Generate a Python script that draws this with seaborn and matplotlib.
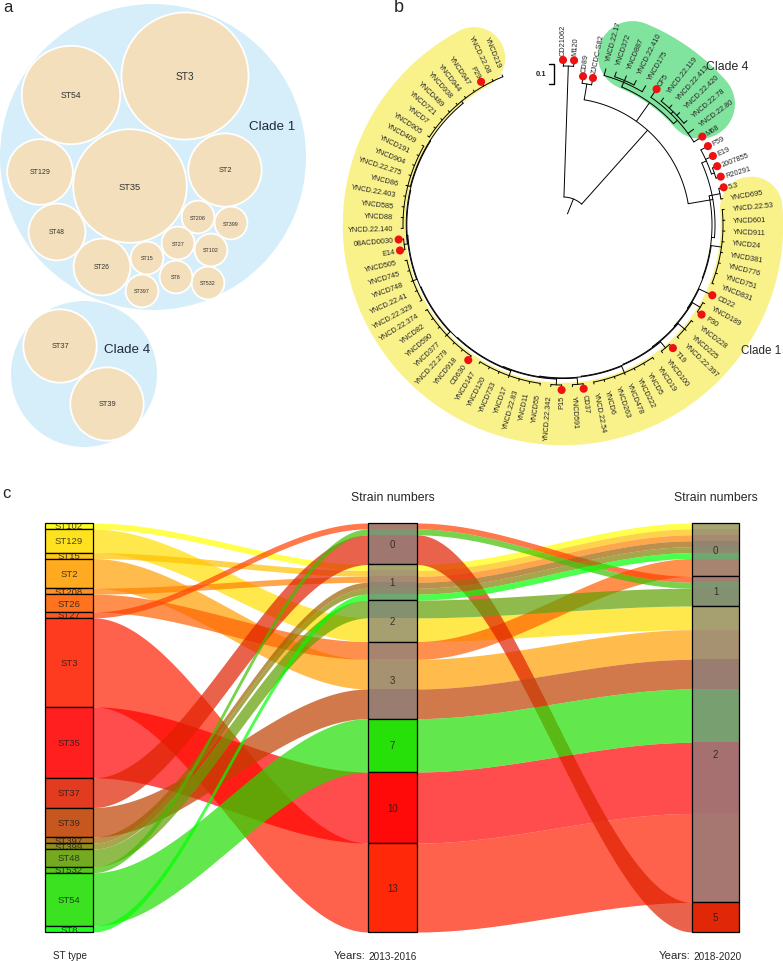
import numpy as np
import seaborn as sns
import matplotlib.pyplot as plt
from matplotlib.patches import Circle, Rectangle
from matplotlib.colors import to_rgba

sns.set_theme(style="white")
plt.rcParams['font.family'] = ['Liberation Sans', 'DejaVu Sans']

# --- ST types (panels a and c) ---
st_types = ["ST102", "ST129", "ST15", "ST2", "ST208", "ST26", "ST27", "ST3", "ST35",
            "ST37", "ST39", "ST397", "ST399", "ST48", "ST532", "ST54", "ST8"]
strains_2013_2016 = [1, 2, 1, 3, 1, 3, 0, 13, 10, 0, 3, 1, 1, 2, 0, 7, 1]
strains_2018_2020 = [0, 2, 0, 2, 0, 0, 1, 2, 2, 5, 2, 0, 0, 1, 1, 2, 0]
st_colors = ["#FFFF00", "#FFDF00", "#FFBF00", "#FF9F00", "#FF8000", "#FF6000", "#FF4000",
             "#FF2000", "#FF0000", "#DF2000", "#BF4000", "#9F6000", "#808000", "#609F00",
             "#40BF00", "#20DF00", "#00FF00"]
mid_levels = [0, 1, 2, 3, 7, 10, 13]
right_levels = [0, 1, 2, 5]

# --- phylogeny tips (clockwise from the top) ---
tip_labels = ["CD21062", "M120", "CD89", "ZJCDC-S82", "YNCD.22.17", "YNCD372", "YNCD887",
              "YNCD.22.410", "YNCD175", "CF5", "YNCD.22.119", "YNCD.22.413", "YNCD.22.420",
              "YNCD.22.78", "YNCD.22.80", "M68", "P59", "E19", "2007855", "R20291", "5.3",
              "YNCD695", "YNCD.22.53", "YNCD601", "YNCD911", "YNCD24", "YNCD381", "YNCD776",
              "YNCD751", "YNCD831", "CD22", "YNCD189", "P30", "YNCD228", "YNCD225",
              "YNCD.22.397", "T19", "YNCD100", "YNCD19", "YNCD5", "YNCD222", "YNCD478",
              "YNCD263", "YNCD6", "YNCD.22.54", "CD37", "YNCD591", "P15", "YNCD.22.342",
              "YNCD55", "YNCD11", "YNCD.22.83", "YNCD17", "YNCD733", "YNCD120", "YNCD147",
              "CD630", "YNCD918", "YNCD.22.279", "YNCD377", "YNCD590", "YNCD82", "YNCD.22.374",
              "YNCD.22.329", "YNCD.22.41", "YNCD748", "YNCD745", "YNCD505", "E14", "08ACD0030",
              "YNCD.22.140", "YNCD88", "YNCD585", "YNCD.22.403", "YNCD86", "YNCD.22.275",
              "YNCD904", "YNCD191", "YNCD409", "YNCD905", "YNCD7", "YNCD721", "YNCD489",
              "YNCD938", "YNCD944", "YNCD947", "P29", "YNCD.22.08", "YNCD219"]
marked_tips = ["CD21062", "M120", "CD89", "ZJCDC-S82", "CF5", "M68", "P59", "E19", "2007855",
               "R20291", "5.3", "CD22", "P30", "T19", "CD37", "P15", "CD630", "E14",
               "08ACD0030", "P29"]
clade1_groups = [[20, 21], list(range(22, 30)), [30], [31, 32], [33, 34, 35], [36, 37],
                 list(range(38, 45)), [45, 46], [47, 48], list(range(49, 56)),
                 list(range(56, 63)), list(range(63, 68)), [68, 69], list(range(70, 79)),
                 list(range(79, 89))]

# --- layout (pixels) ---
bubble_xy = {"ST3": (185, 77), "ST54": (71, 96), "ST35": (130, 187), "ST2": (225, 171),
             "ST129": (40, 173), "ST48": (57, 233), "ST26": (102, 268), "ST208": (198, 218),
             "ST399": (231, 224), "ST27": (178, 244), "ST102": (211, 251), "ST15": (147, 259),
             "ST8": (176, 278), "ST532": (208, 284), "ST397": (142, 292),
             "ST37": (60, 347), "ST39": (107, 405)}
clade_bubbles = {"Clade 1": (153, 158, 153, 272, 127), "Clade 4": (84, 375, 73, 127, 350)}

fig = plt.figure(figsize=(7.83, 9.62), dpi=100)
ax = fig.add_axes([0, 0, 1, 1])
ax.set_xlim(0, 783)
ax.set_ylim(962, 0)
ax.axis('off')

totals = np.array(strains_2013_2016) + np.array(strains_2018_2020)

# ---------------- panel a : packed bubbles ----------------
for name, (cx, cy, rr, lx, ly) in clade_bubbles.items():
    ax.add_patch(Circle((cx, cy), rr, facecolor='#d5eefa', edgecolor='none', zorder=1))
    ax.text(lx, ly, name, ha='center', va='center', fontsize=9.6, color='#1f2a3c', zorder=4)
for st, tot in zip(st_types, totals):
    cx, cy = bubble_xy[st]
    r = 16.4 * np.sqrt(tot)
    ax.add_patch(Circle((cx, cy), r, facecolor='#f3dfbb', edgecolor='white', lw=1.3, zorder=2))
    ax.text(cx, cy, st, ha='center', va='center', fontsize=2.7 + 0.072 * r,
            color='#333333', zorder=3)
ax.text(3, 8, 'a', fontsize=12, va='center', ha='left')

# ---------------- panel b : circular tree ----------------
C = (563, 226)
n_tips = len(tip_labels)
tip_ang = 90 - 3.84 * np.arange(n_tips)
tip_rad = np.full(n_tips, 162.0)
tip_rad[[2, 3]] = 147


def pol(r, a):
    t = np.deg2rad(a)
    return C[0] + r * np.cos(t), C[1] - r * np.sin(t)


def ladder(groups, r0, dr):
    g = groups[0]
    head = g[0] if len(g) == 1 else [160] + g
    if len(groups) == 1:
        return head
    return [r0, head, ladder(groups[1:], r0 + dr, dr)]


clade4 = [150, [155, 4, [157, 5, 6, 7], 8], [155, 9, [158, 10, 11, 12, 13], 14, 15]]
pgroup = [157, 16, 17, [160, 18, 19]]
clade1 = ladder(clade1_groups, 149, 0.65)
tree = [28, [159, 0, 1], [127, [143, 2, 3], clade4, [152, pgroup, clade1]]]


def node_angle(n):
    if isinstance(n, int):
        return tip_ang[n]
    return np.mean([node_angle(c) for c in n[1:]])


def node_radius(n):
    return tip_rad[n] if isinstance(n, int) else n[0]


def draw_node(n):
    r = n[0]
    angs = [node_angle(c) for c in n[1:]]
    arc = np.linspace(min(angs), max(angs), 120)
    ax.plot(*pol(r, arc), color='black', lw=0.7, zorder=3)
    for c, a in zip(n[1:], angs):
        ax.plot(*pol(np.array([r, node_radius(c)]), np.array([a, a])),
                color='black', lw=0.7, zorder=3)
        if not isinstance(c, int):
            draw_node(c)


# highlights
arc1 = np.linspace(tip_ang[20] - 8, tip_ang[88] + 6, 300)
ax.plot(*pol(189, arc1), color='#f9f28a', lw=45, solid_capstyle='round', zorder=1)
arc4 = np.linspace(tip_ang[4] - 7, tip_ang[15] + 9, 100)
ax.plot(*pol(183, arc4), color='#80e39e', lw=50, solid_capstyle='round', zorder=1)

draw_node(tree)
ra = node_angle(tree)
ax.plot(*pol(np.array([12, 28]), np.array([ra, ra])), color='black', lw=0.7, zorder=3)

# tip labels and red dots
dot_x, dot_y = [], []
for i, lab in enumerate(tip_labels):
    a = tip_ang[i]
    an = (a + 180) % 360 - 180
    x, y = pol(tip_rad[i] + 8, a)
    if -90 < an <= 90:
        ax.text(x, y, lab, rotation=an, rotation_mode='anchor', ha='left', va='center',
                fontsize=5.3, zorder=5)
    else:
        rot = an - 180 if an > 90 else an + 180
        ax.text(x, y, lab, rotation=rot, rotation_mode='anchor', ha='right', va='center',
                fontsize=5.3, zorder=5)
    if lab in marked_tips:
        dx, dy = pol(tip_rad[i] + 3, a)
        dot_x.append(dx)
        dot_y.append(dy)
sns.scatterplot(x=dot_x, y=dot_y, ax=ax, color='#ee1111', s=34, edgecolor='none',
                legend=False, zorder=6)

ax.text(727, 67, 'Clade 4', ha='center', va='center', fontsize=8.8)
ax.text(741, 351, 'Clade 1', ha='left', va='center', fontsize=8.4)
ax.plot([549, 554, 554, 549], [65, 65, 85, 85], color='black', lw=1.0)
ax.text(546, 75, '0.1', ha='right', va='center', fontsize=5.5, fontweight='bold')
ax.text(394, 8, 'b', fontsize=13, va='center', ha='left')

# ---------------- panel c : alluvial ----------------
top, bottom = 524, 933
unit = (bottom - top) / totals.sum()
xl, xm, xr = (45, 93), (368, 417), (692, 739)
n_st = len(st_types)
left_y = top + unit * np.concatenate([[0], np.cumsum(totals)[:-1]])


def stack(levels, level_of, sort_by):
    pos, boxes, y = {}, [], top
    for lv in levels:
        members = sorted([i for i in range(n_st) if level_of[i] == lv],
                         key=lambda i: (sort_by[i], i))
        y0 = y
        for i in members:
            pos[i] = y
            y += totals[i] * unit
        boxes.append((lv, y0, y, members))
    return pos, boxes


mid_y, mid_boxes = stack(mid_levels, strains_2013_2016, strains_2018_2020)
right_y, right_boxes = stack(right_levels, strains_2018_2020, strains_2013_2016)


def ribbon(xa, xb, ya, yb, h, color):
    xs = np.linspace(xa, xb, 100)
    t = (xs - xa) / (xb - xa)
    s = t * t * (3 - 2 * t)
    yt = ya + (yb - ya) * s
    ax.fill_between(xs, yt, yt + h, color=color, alpha=0.7, lw=0, zorder=1)


for i in range(n_st):
    h = totals[i] * unit
    ribbon(xl[1], xm[0], left_y[i], mid_y[i], h, st_colors[i])
    ribbon(xm[1], xr[0], mid_y[i], right_y[i], h, st_colors[i])
    ax.fill_between([xm[0], xm[1]], mid_y[i], mid_y[i] + h, color=st_colors[i], alpha=0.7, lw=0, zorder=1)
    ax.fill_between([xr[0], xr[1]], right_y[i], right_y[i] + h, color=st_colors[i], alpha=0.7, lw=0, zorder=1)

txt_kw = dict(ha='center', va='center', color='#1a1a1a', alpha=0.8, zorder=5)
for i, st in enumerate(st_types):
    rect = Rectangle((xl[0], left_y[i]), xl[1] - xl[0], totals[i] * unit,
                     facecolor=to_rgba(st_colors[i], 0.88), edgecolor='black', lw=0.9, zorder=3)
    ax.add_patch(rect)
    t = ax.text(np.mean(xl), left_y[i] + totals[i] * unit / 2, st, fontsize=6.8, **txt_kw)
    t.set_clip_path(rect)

for (xa, xb), boxes in [(xm, mid_boxes), (xr, right_boxes)]:
    for lv, y0, y1, members in boxes:
        if len(members) == 1:
            fc = to_rgba(st_colors[members[0]], 0.88)
        else:
            fc = to_rgba('#808080', 0.7)
        ax.add_patch(Rectangle((xa, y0), xb - xa, y1 - y0, facecolor=fc,
                               edgecolor='black', lw=0.9, zorder=3))
        ax.text((xa + xb) / 2, (y0 + y1) / 2, str(lv), fontsize=7, **txt_kw)

for xa, xb in [xm, xr]:
    xc = (xa + xb) / 2
    ax.text(xc, 498, 'Strain numbers', ha='center', va='center', fontsize=8.8)
ax.text(70, 956, 'ST type', ha='center', va='center', fontsize=7.1)
ax.text(366, 956, 'Years:', ha='right', va='center', fontsize=8.2)
ax.text(368, 957, '2013-2016', ha='left', va='center', fontsize=7.2)
ax.text(691, 956, 'Years:', ha='right', va='center', fontsize=8.2)
ax.text(693, 957, '2018-2020', ha='left', va='center', fontsize=7.2)
ax.text(2, 494, 'c', fontsize=12, va='center', ha='left')

fig.savefig('out.png', dpi=100)
